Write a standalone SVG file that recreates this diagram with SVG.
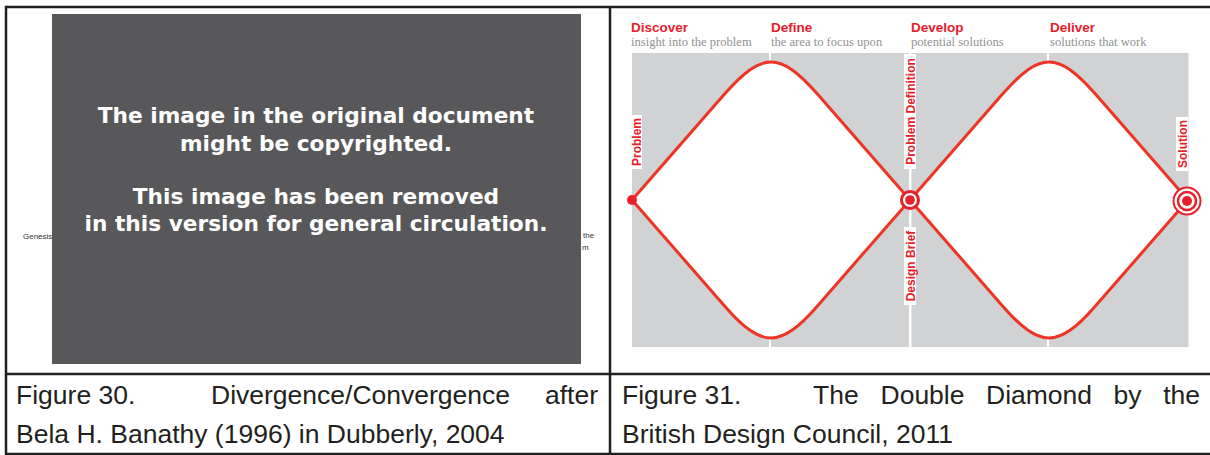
<svg xmlns="http://www.w3.org/2000/svg" width="1210" height="455" viewBox="0 0 1210 455">
<style>
.frame{stroke:#231f20;stroke-width:2.5;fill:none}
.cap{font-family:"Liberation Sans",Arial,sans-serif;font-size:26.5px;fill:#231f20}
.notice{font-family:"DejaVu Sans",Verdana,sans-serif;font-weight:bold;font-size:21.7px;fill:#ffffff}
.tiny{font-family:"Liberation Sans",Arial,sans-serif;font-size:8px;fill:#333}
.head{font-family:"Liberation Sans",Arial,sans-serif;font-weight:bold;font-size:13.5px;fill:#e8202a}
.sub{font-family:"Liberation Serif","Times New Roman",serif;font-size:12.6px;fill:#929292}
.vlab{font-family:"Liberation Sans",Arial,sans-serif;font-weight:bold;font-size:12px;fill:#e8202a}
.dia{fill:#ffffff;stroke:#ee3424;stroke-width:3;stroke-linejoin:round}
.gap{stroke:#ffffff;stroke-width:2}
</style>
<rect width="1210" height="455" fill="#ffffff"/>

<g id="left-panel">
<text class="tiny" x="23" y="239">Genesis</text>
<text class="tiny" x="583" y="238">the</text>
<text class="tiny" x="582" y="250">m</text>
<rect x="52" y="14" width="529" height="350" fill="#58585a"/>
<text class="notice" text-anchor="middle" x="316" y="123">The image in the original document</text>
<text class="notice" text-anchor="middle" x="316" y="151">might be copyrighted.</text>
<text class="notice" text-anchor="middle" x="316" y="204">This image has been removed</text>
<text class="notice" text-anchor="middle" x="316" y="231">in this version for general circulation.</text>
</g>

<g id="right-panel">
<rect x="632" y="53" width="277" height="294" fill="#d1d2d4"/>
<rect x="911.5" y="53" width="277" height="294" fill="#d1d2d4"/>
<line class="gap" x1="770" y1="53" x2="770" y2="62"/>
<line class="gap" x1="770" y1="338" x2="770" y2="347"/>
<line class="gap" x1="1048" y1="53" x2="1048" y2="62"/>
<line class="gap" x1="1048" y1="338" x2="1048" y2="347"/>
</g>

<g id="connectors">
<path class="dia" d="M632,200 L725,93.6 C761.8,51.5 780.2,51.5 817,93.6 L910,200 L817,306.4 C780.2,348.5 761.8,348.5 725,306.4 Z"/>
<path class="dia" d="M910,200 L1003,93.6 C1039.8,51.5 1058.2,51.5 1095,93.6 L1188,200 L1095,306.4 C1058.2,348.5 1039.8,348.5 1003,306.4 Z"/>
</g>

<g id="phase-discover">
<text class="head" x="631" y="32">Discover</text>
<text class="sub" x="631" y="46">insight into the problem</text>
</g>
<g id="phase-define">
<text class="head" x="771" y="32">Define</text>
<text class="sub" x="771" y="46">the area to focus upon</text>
</g>
<g id="phase-develop">
<text class="head" x="911" y="32">Develop</text>
<text class="sub" x="911" y="46">potential solutions</text>
</g>
<g id="phase-deliver">
<text class="head" x="1050" y="32">Deliver</text>
<text class="sub" x="1050" y="46">solutions that work</text>
</g>

<g id="node-problem">
<rect x="631" y="115" width="11" height="54" fill="#ffffff"/>
<text class="vlab" text-anchor="middle" transform="translate(641,142) rotate(-90)">Problem</text>
<circle cx="632" cy="200" r="5" fill="#e8202a"/>
</g>

<g id="node-problem-definition">
<rect x="904" y="54" width="12" height="115" fill="#ffffff"/>
<text class="vlab" text-anchor="middle" transform="translate(914.5,111.5) rotate(-90)">Problem Definition</text>
</g>

<g id="node-design-brief">
<rect x="904" y="227" width="12" height="78" fill="#ffffff"/>
<text class="vlab" text-anchor="middle" transform="translate(914.5,266) rotate(-90)">Design Brief</text>
<line class="gap" x1="910" y1="305" x2="910" y2="347"/>
</g>

<g id="node-mid">
<line class="gap" x1="910" y1="169" x2="910" y2="227"/>
<circle cx="910" cy="200" r="8.5" fill="#ffffff" stroke="#e8202a" stroke-width="3"/>
<circle cx="910" cy="200" r="4.8" fill="#e8202a"/>
</g>

<g id="node-solution">
<rect x="1176" y="117" width="12" height="54" fill="#ffffff"/>
<text class="vlab" text-anchor="middle" transform="translate(1186.5,144) rotate(-90)">Solution</text>
<circle cx="1187" cy="201" r="13.5" fill="#ffffff" stroke="#e8202a" stroke-width="2"/>
<circle cx="1187" cy="201" r="9" fill="#ffffff" stroke="#e8202a" stroke-width="2.5"/>
<circle cx="1187" cy="201" r="5" fill="#e8202a"/>
</g>

<g id="table">
<line class="frame" x1="6" y1="7" x2="1210" y2="7"/>
<line class="frame" x1="6" y1="5.8" x2="6" y2="455"/>
<line class="frame" x1="610" y1="7" x2="610" y2="455"/>
<line class="frame" x1="6" y1="374" x2="1210" y2="374"/>
<line class="frame" x1="6" y1="454" x2="1210" y2="454"/>
</g>

<g id="caption-30">
<text class="cap" x="16" y="404">Figure 30.</text>
<text class="cap" x="211" y="404">Divergence/Convergence</text>
<text class="cap" x="598" y="404" text-anchor="end">after</text>
<text class="cap" x="16" y="443">Bela H. Banathy (1996) in Dubberly, 2004</text>
</g>

<g id="caption-31">
<text class="cap" x="622" y="404">Figure 31.</text>
<text class="cap" x="813" y="404">The</text>
<text class="cap" x="880.5" y="404">Double</text>
<text class="cap" x="986" y="404">Diamond</text>
<text class="cap" x="1113.5" y="404">by</text>
<text class="cap" x="1200" y="404" text-anchor="end">the</text>
<text class="cap" x="622" y="443">British Design Council, 2011</text>
</g>
</svg>
